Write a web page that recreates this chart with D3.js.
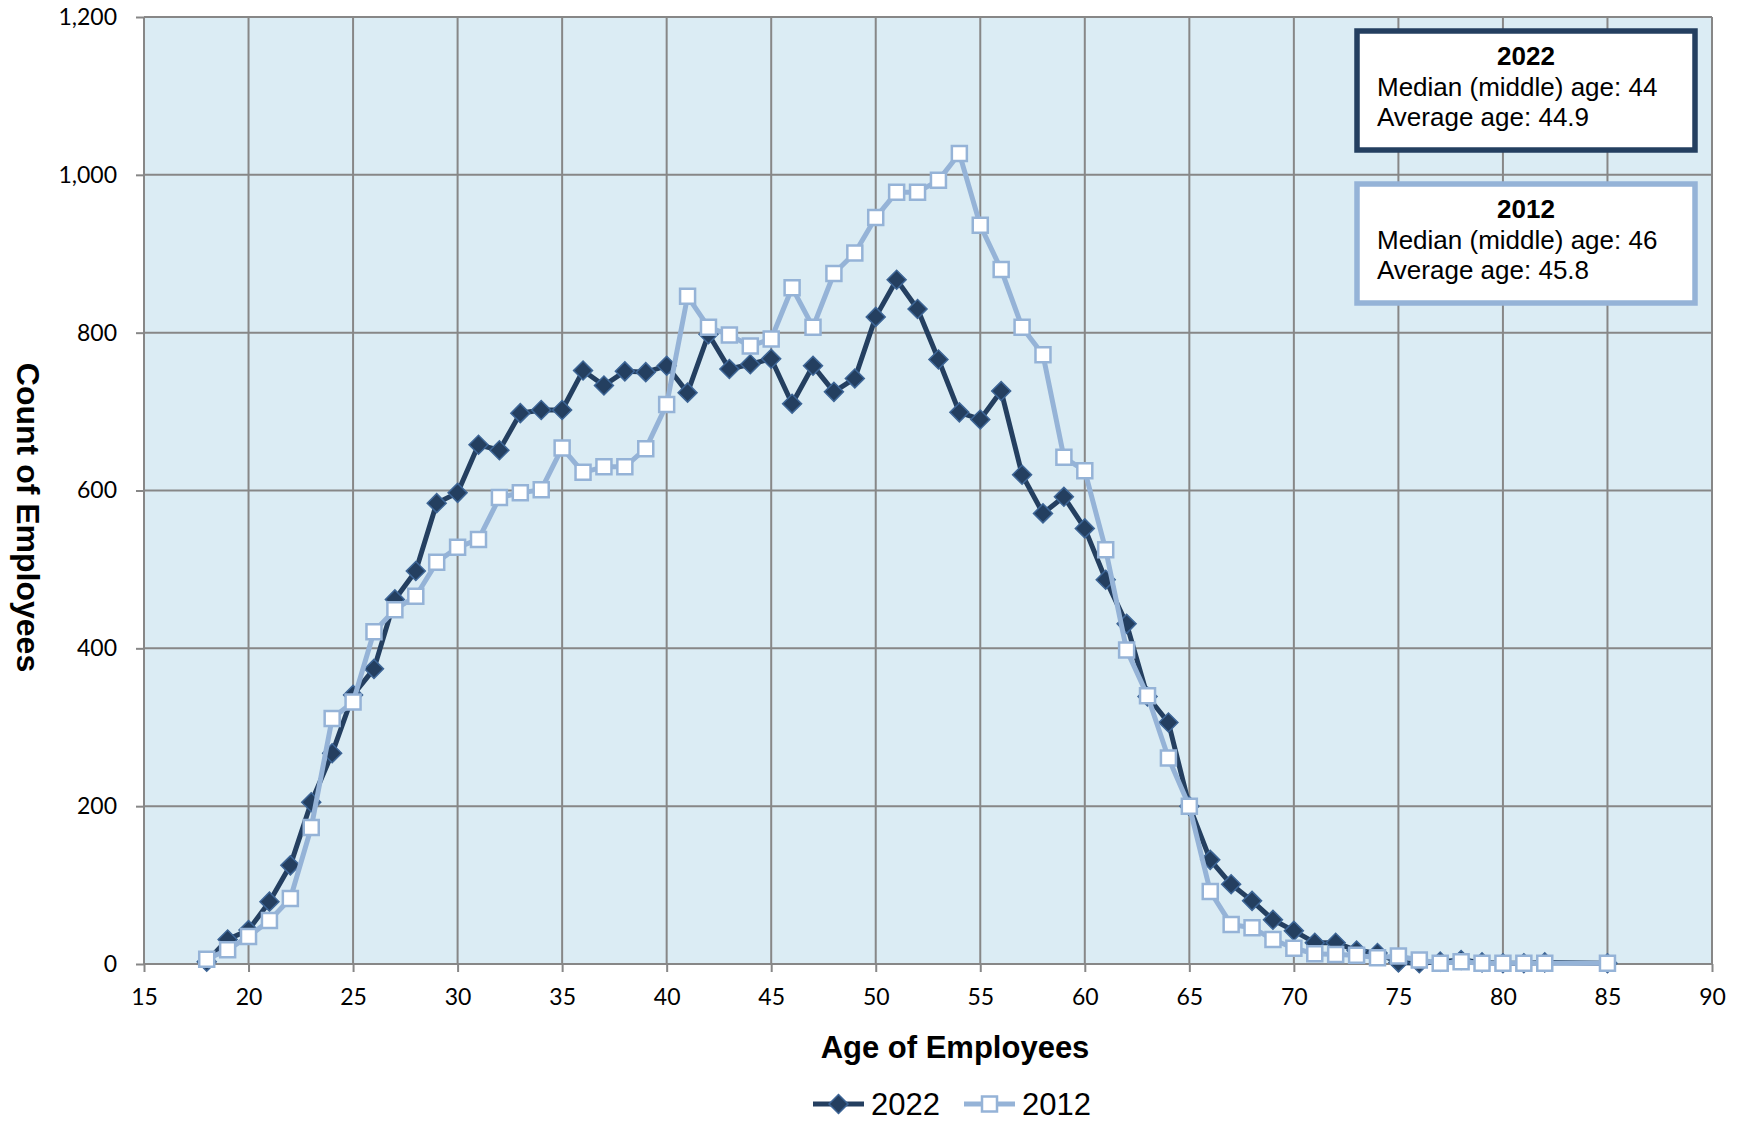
<!DOCTYPE html>
<html>
<head>
<meta charset="utf-8">
<script src="https://cdn.jsdelivr.net/npm/d3@7"></script>
<style>
    body { margin: 0; background: #ffffff; }
    svg { display: block; }
</style>
</head>
<body>
<svg id="chart" width="1744" height="1121"></svg>
<script>
const margin = { top: 17, right: 32, bottom: 157, left: 144 };
const width = 1744 - margin.left - margin.right;
const height = 1121 - margin.top - margin.bottom;

// ages present in both years (83 and 84 have no entry)
var ages = [18, 19, 20, 21, 22, 23, 24, 25, 26, 27, 28, 29, 30, 31, 32, 33, 34, 35, 36, 37,
    38, 39, 40, 41, 42, 43, 44, 45, 46, 47, 48, 49, 50, 51, 52, 53, 54, 55, 56, 57,
    58, 59, 60, 61, 62, 63, 64, 65, 66, 67, 68, 69, 70, 71, 72, 73, 74, 75, 76, 77,
    78, 79, 80, 81, 82, 85]

var counts2022 = [3, 31, 43, 79, 125, 205, 267, 341, 374, 462, 498, 584, 597, 658, 651, 698, 702, 702, 752, 733,
    751, 750, 758, 724, 798, 754, 760, 767, 710, 758, 725, 742, 820, 867, 830, 766, 699, 690, 726, 620,
    571, 592, 552, 487, 431, 339, 306, 200, 132, 101, 80, 56, 42, 27, 27, 17, 14, 2, 1, 3,
    5, 2, 1, 1, 2, 1]

var counts2012 = [6, 18, 35, 55, 83, 173, 311, 332, 421, 449, 466, 509, 528, 538, 591, 597, 601, 654, 623, 630,
    630, 653, 709, 846, 807, 797, 783, 792, 857, 807, 875, 901, 946, 978, 978, 993, 1027, 936, 880, 807,
    772, 642, 625, 525, 398, 340, 261, 200, 92, 50, 46, 31, 20, 13, 12, 11, 8, 10, 5, 1,
    3, 1, 1, 1, 1, 1]

var xTicks = [15, 20, 25, 30, 35, 40, 45, 50, 55, 60, 65, 70, 75, 80, 85, 90]
var yTicks = [0, 200, 400, 600, 800, 1000, 1200]

var seriesNames = ['2022', '2012']
var medianAges = [44, 46]
var averageAges = [44.9, 45.8]

var darkBlue = '#243f60'
var lightBlue = '#95b3d7'
var gridColor = '#878787'

var svg = d3.select('#chart')

var xScale = d3.scaleLinear()
    .domain([15, 90])
    .range([0, width])

var yScale = d3.scaleLinear()
    .domain([0, 1200])
    .range([height, 0])

var plot = svg.append('g')
    .attr('transform', 'translate(' + margin.left + ',' + margin.top + ')')

plot.append('rect')
    .attr('width', width)
    .attr('height', height)
    .attr('fill', '#dbecf4')

// grid
plot.append('g')
    .selectAll('line')
    .data(xTicks)
    .join('line')
    .attr('x1', d => xScale(d))
    .attr('x2', d => xScale(d))
    .attr('y1', 0)
    .attr('y2', height)
    .attr('stroke', gridColor)
    .attr('stroke-width', 2)

plot.append('g')
    .selectAll('line')
    .data(yTicks)
    .join('line')
    .attr('x1', 0)
    .attr('x2', width)
    .attr('y1', d => yScale(d))
    .attr('y2', d => yScale(d))
    .attr('stroke', gridColor)
    .attr('stroke-width', 2)

// axes
const xAxis = d3.axisBottom(xScale)
    .tickValues(xTicks)
    .tickSize(8)
    .tickPadding(17)
    .tickFormat(d3.format('d'))

const yAxis = d3.axisLeft(yScale)
    .tickValues(yTicks)
    .tickSize(8)
    .tickPadding(19)
    .tickFormat(d3.format(','))

plot.append('g')
    .attr('transform', 'translate(0,' + height + ')')
    .call(xAxis)
    .call(g => g.select('.domain').remove())

plot.append('g')
    .call(yAxis)
    .call(g => g.select('.domain').remove())

plot.selectAll('.tick line')
    .attr('stroke', gridColor)
    .attr('stroke-width', 2)

plot.selectAll('.tick text')
    .attr('fill', '#000')
    .style('font-family', 'Lato, "Open Sans", sans-serif')
    .style('font-size', '23px')

// series lines and markers, 2012 drawn on top
var series = [
    { name: seriesNames[0], values: counts2022, color: darkBlue, marker: 'diamond' },
    { name: seriesNames[1], values: counts2012, color: lightBlue, marker: 'square' }
]

var line = d3.line()
    .x(d => xScale(d.age))
    .y(d => yScale(d.count))

var diamond = d3.symbol().type(d3.symbolSquare).size(180)
var square = d3.symbol().type(d3.symbolSquare).size(225)

series.forEach(s => {
    let pts = ages.map((a, i) => ({ age: a, count: s.values[i] }))
    let g = plot.append('g')

    g.append('path')
        .datum(pts)
        .attr('d', line)
        .attr('fill', 'none')
        .attr('stroke', s.color)
        .attr('stroke-width', 5)
        .attr('stroke-linejoin', 'round')

    if (s.marker == 'diamond') {
        g.selectAll('path.m')
            .data(pts)
            .join('path')
            .attr('class', 'm')
            .attr('d', diamond)
            .attr('transform', d => 'translate(' + xScale(d.age) + ',' + yScale(d.count) + ') rotate(45)')
            .attr('fill', darkBlue)
            .attr('stroke', '#3d6596')
            .attr('stroke-width', 1.5)
    }
    else {
        g.selectAll('path.m')
            .data(pts)
            .join('path')
            .attr('class', 'm')
            .attr('d', square)
            .attr('transform', d => 'translate(' + xScale(d.age) + ',' + yScale(d.count) + ')')
            .attr('fill', '#ffffff')
            .attr('stroke', lightBlue)
            .attr('stroke-width', 2.5)
    }
})

// axis titles
svg.append('text')
    .attr('x', 955)
    .attr('y', 1058)
    .attr('text-anchor', 'middle')
    .style('font-family', '"Liberation Sans", Arial, sans-serif')
    .style('font-weight', 'bold')
    .style('font-size', '31px')
    .text('Age of Employees')

svg.append('text')
    .attr('transform', 'translate(17,' + (margin.top + height / 2 + 27) + ') rotate(90)')
    .attr('text-anchor', 'middle')
    .style('font-family', '"Liberation Sans", Arial, sans-serif')
    .style('font-weight', 'bold')
    .style('font-size', '32px')
    .text('Count of Employees')

// stat boxes
var boxTops = [31, 184]
series.forEach((s, i) => {
    let top = boxTops[i]
    svg.append('rect')
        .attr('x', 1357)
        .attr('y', top)
        .attr('width', 338)
        .attr('height', 119)
        .attr('fill', '#ffffff')
        .attr('stroke', s.color)
        .attr('stroke-width', 5.5)

    let t = svg.append('g')
        .style('font-family', '"Liberation Sans", Arial, sans-serif')
        .style('font-size', '26px')

    t.append('text')
        .attr('x', 1526)
        .attr('y', top + 34)
        .attr('text-anchor', 'middle')
        .style('font-weight', 'bold')
        .text(s.name)

    t.append('text')
        .attr('x', 1377)
        .attr('y', top + 65)
        .text('Median (middle) age: ' + medianAges[i])

    t.append('text')
        .attr('x', 1377)
        .attr('y', top + 95)
        .text('Average age: ' + averageAges[i])
})

// legend
var legendX = [813, 964]
var legend = svg.append('g')
series.forEach((s, i) => {
    let x0 = legendX[i]
    let yl = 1104
    legend.append('line')
        .attr('x1', x0)
        .attr('x2', x0 + 51)
        .attr('y1', yl)
        .attr('y2', yl)
        .attr('stroke', s.color)
        .attr('stroke-width', 5)
    legend.append('path')
        .attr('d', s.marker == 'diamond' ? diamond : square)
        .attr('transform', 'translate(' + (x0 + 25.5) + ',' + yl + ')' + (s.marker == 'diamond' ? ' rotate(45)' : ''))
        .attr('fill', s.marker == 'diamond' ? darkBlue : '#ffffff')
        .attr('stroke', s.marker == 'diamond' ? '#3d6596' : lightBlue)
        .attr('stroke-width', s.marker == 'diamond' ? 1.5 : 2.5)
    legend.append('text')
        .attr('x', x0 + 58)
        .attr('y', yl + 11)
        .style('font-family', '"Liberation Sans", Arial, sans-serif')
        .style('font-size', '31px')
        .text(s.name)
})
</script>
</body>
</html>
